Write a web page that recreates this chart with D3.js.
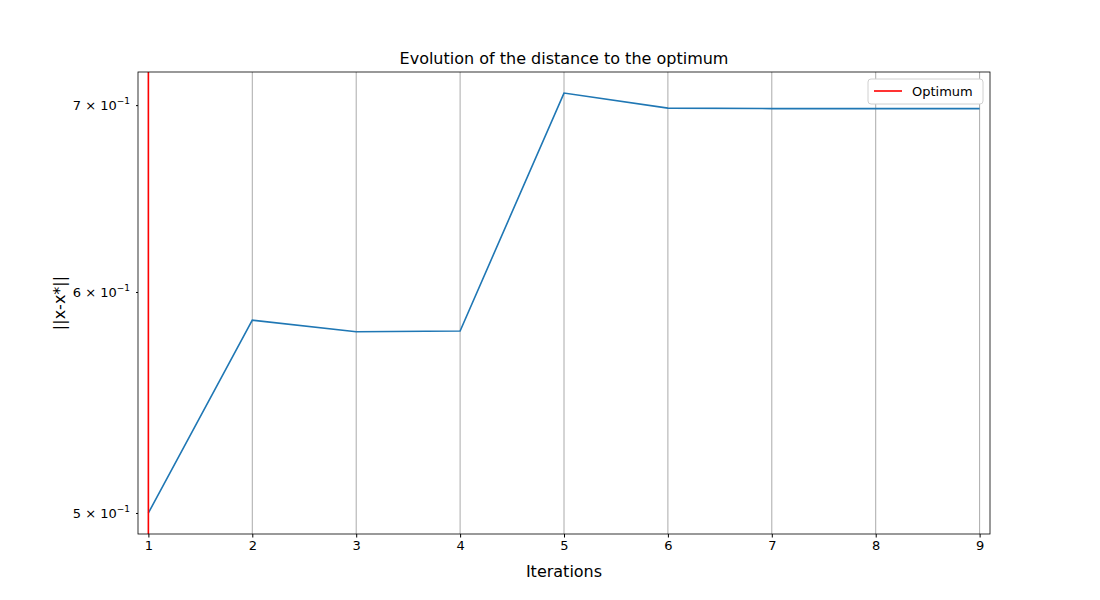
<!DOCTYPE html>
<html>
<head>
<meta charset="utf-8">
<script src="https://cdn.jsdelivr.net/npm/d3@7"></script>
<style>
body { margin:0; background:#fff; }
text { font-family: "DejaVu Sans", sans-serif; }
</style>
</head>
<body>
<div id="chart-area"></div>
<script>
const iterations = [1, 2, 3, 4, 5, 6, 7, 8, 9]
const distances = [0.5, 0.5862, 0.5806, 0.5810, 0.7070, 0.6983, 0.6980, 0.6980, 0.6980]
const yTicks = [0.5, 0.6, 0.7]
const yTickLabels = ["5", "6", "7"]
const optimumIter = 1

const MARGIN = { LEFT:138, RIGHT:110, TOP:72, BOTTOM:66 }
const WIDTH = 1100 - MARGIN.LEFT - MARGIN.RIGHT
const HEIGHT = 600 - MARGIN.TOP - MARGIN.BOTTOM

const svg = d3.select("#chart-area").append("svg")
    .attr("width", 1100).attr("height", 600)

const g = svg.append("g")
    .attr("transform", `translate(${MARGIN.LEFT}, ${MARGIN.TOP})`)

const x = d3.scaleLinear().domain([0.9, 9.1]).range([0, WIDTH])
const y = d3.scaleLog().domain([0.4914, 0.7194]).range([HEIGHT, 0])

// vertical grid
g.selectAll("line.grid").data(iterations).enter().append("line")
    .attr("class", "grid")
    .attr("x1", d => x(d)).attr("x2", d => x(d))
    .attr("y1", 0).attr("y2", HEIGHT)
    .attr("stroke", "#aaaaaa").attr("stroke-width", 1)

// x axis
const xAxis = g.append("g")
    .attr("transform", `translate(0, ${HEIGHT})`)
    .call(d3.axisBottom(x).tickValues(iterations).tickSize(3.5).tickPadding(3))
xAxis.select(".domain").remove()
xAxis.selectAll("text").attr("font-size", "13px").attr("fill", "#000")

// y axis
const yAxis = g.append("g")
    .call(d3.axisLeft(y).tickValues(yTicks).tickSize(2).tickFormat(""))
yAxis.select(".domain").remove()
yTicks.forEach((t, i) => {
    const txt = g.append("text")
        .attr("x", -8).attr("y", y(t) + 5)
        .attr("text-anchor", "end").attr("font-size", "13px")
    txt.append("tspan").text(yTickLabels[i] + " × 10")
    txt.append("tspan").attr("dy", -6).attr("font-size", "9px").text("−1")
})

// line
const line = d3.line().x((d, i) => x(iterations[i])).y(d => y(d))
g.append("path").datum(distances)
    .attr("d", line)
    .attr("fill", "none").attr("stroke", "#1f77b4").attr("stroke-width", 1.6)

// optimum
g.append("line")
    .attr("x1", x(optimumIter)).attr("x2", x(optimumIter))
    .attr("y1", 0).attr("y2", HEIGHT)
    .attr("stroke", "red").attr("stroke-width", 1.6)

// frame
g.append("rect").attr("width", WIDTH).attr("height", HEIGHT)
    .attr("fill", "none").attr("stroke", "#000").attr("stroke-width", 0.8)

// legend
const leg = g.append("g").attr("transform", `translate(${WIDTH - 122}, 7)`)
leg.append("rect").attr("width", 115).attr("height", 25).attr("rx", 3)
    .attr("fill", "#fff").attr("stroke", "#d0d0d0")
leg.append("line").attr("x1", 6).attr("x2", 34).attr("y1", 12).attr("y2", 12)
    .attr("stroke", "red").attr("stroke-width", 1.6)
leg.append("text").attr("x", 44).attr("y", 17).attr("font-size", "13px").text("Optimum")

// titles
svg.append("text").attr("x", MARGIN.LEFT + WIDTH / 2).attr("y", 64)
    .attr("text-anchor", "middle").attr("font-size", "16px")
    .text("Evolution of the distance to the optimum")
svg.append("text").attr("x", MARGIN.LEFT + WIDTH / 2).attr("y", 577)
    .attr("text-anchor", "middle").attr("font-size", "16px").text("Iterations")
svg.append("text")
    .attr("transform", `translate(65, ${MARGIN.TOP + HEIGHT / 2}) rotate(-90)`)
    .attr("text-anchor", "middle").attr("font-size", "16px").text("||x-x*||")
</script>
</body>
</html>
